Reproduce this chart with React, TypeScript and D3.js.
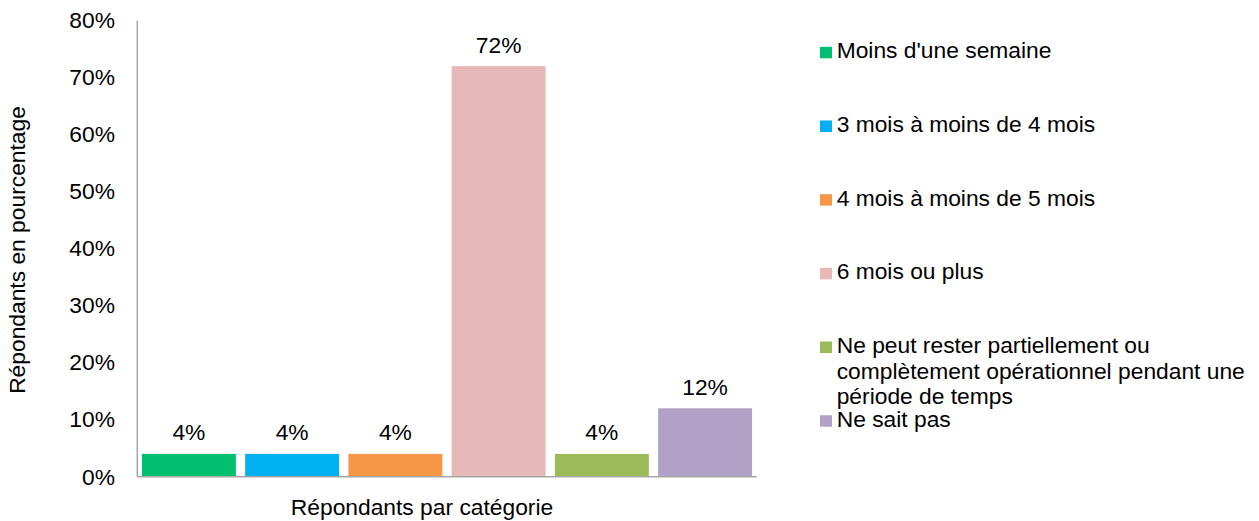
import React from "react";
import * as d3 from "d3";

const categories = [
  "Moins d'une semaine",
  "3 mois à moins de 4 mois",
  "4 mois à moins de 5 mois",
  "6 mois ou plus",
  "Ne peut rester partiellement ou complètement opérationnel pendant une période de temps",
  "Ne sait pas",
];
const values = [4, 4, 4, 72, 4, 12];
const colors = ["#00BF6F", "#00B0F0", "#F79646", "#E6B9B8", "#9BBB59", "#B2A1C7"];
const legendLines = [
  ["Moins d'une semaine"],
  ["3 mois à moins de 4 mois"],
  ["4 mois à moins de 5 mois"],
  ["6 mois ou plus"],
  ["Ne peut rester partiellement ou", "complètement opérationnel pendant une", "période de temps"],
  ["Ne sait pas"],
];
const yTicks = [0, 10, 20, 30, 40, 50, 60, 70, 80];
const yTitle = "Répondants en pourcentage";
const xTitle = "Répondants par catégorie";

const W = 1259;
const H = 521;
const FONT = "'Liberation Sans', Arial, sans-serif";
const FS = 22.8;

export default function App() {
  const x = d3
    .scaleBand<string>()
    .domain(categories)
    .range([137.3, 756.7])
    .paddingInner(0.09)
    .paddingOuter(0.045);
  const y = d3.scaleLinear().domain([0, 80]).range([476.7, 20.5]);
  const legendY = d3.scaleLinear().domain([0, 5]).range([58.3, 426.7]);

  return (
    <svg
      width={W}
      height={H}
      style={{ position: "absolute", left: 0, top: 0, background: "#fff" }}
      fontFamily={FONT}
    >
      {categories.map((c, i) => (
        <rect
          key={c}
          x={x(c)}
          y={y(values[i])}
          width={x.bandwidth()}
          height={y(0) - y(values[i])}
          fill={colors[i]}
        />
      ))}
      {categories.map((c, i) => (
        <text
          key={"l" + c}
          x={(x(c) as number) + x.bandwidth() / 2}
          y={y(values[i]) - 13.5}
          textAnchor="middle"
          fontSize={FS}
          fill="#000"
        >
          {values[i] + "%"}
        </text>
      ))}
      <line x1={137.3} x2={137.3} y1={y(80)} y2={y(0)} stroke="#a6a6a6" strokeWidth={1.5} />
      <line x1={137.3} x2={756.7} y1={y(0)} y2={y(0)} stroke="#a6a6a6" strokeWidth={1.5} />
      {yTicks.map((t) => (
        <text
          key={"t" + t}
          x={115}
          y={y(t) + 7.8}
          textAnchor="end"
          fontSize={FS}
          fill="#000"
        >
          {t + "%"}
        </text>
      ))}
      <text
        transform={`translate(24.5,250) rotate(-90)`}
        textAnchor="middle"
        fontSize={FS}
        fill="#000"
      >
        {yTitle}
      </text>
      <text x={422} y={515} textAnchor="middle" fontSize={FS} fill="#000">
        {xTitle}
      </text>
      {legendLines.map((lines, i) => {
        const by = legendY(i);
        return (
          <g key={"lg" + i}>
            <rect x={820} y={by - 11.5} width={12} height={11.5} fill={colors[i]} />
            {lines.map((ln, j) => (
              <text key={j} x={836.7} y={by + j * 25.5} fontSize={FS} fill="#000">
                {ln}
              </text>
            ))}
          </g>
        );
      })}
    </svg>
  );
}
